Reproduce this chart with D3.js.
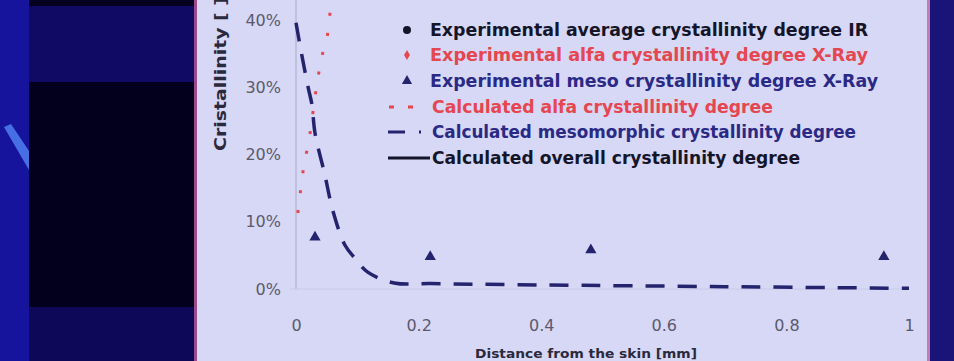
<!DOCTYPE html>
<html>
<head>
<meta charset="utf-8">
<script src="https://cdn.jsdelivr.net/npm/d3@7"></script>
<style>
  html, body { margin: 0; padding: 0; background: #0e0a5c; overflow: hidden; }
  svg { display: block; }
</style>
</head>
<body>
<svg id="chart" width="954" height="361"></svg>
<script>
// values (x in mm from the skin, y in %)
const yTicks = [0, 10, 20, 30, 40];
const xTicks = [0, 0.2, 0.4, 0.6, 0.8, 1];

const mesoExpX = [0.031, 0.219, 0.481, 0.959];
const mesoExpY = [7.7, 4.8, 5.8, 4.8];

const alfaCalcX = [0.003, 0.007, 0.011, 0.018, 0.023, 0.031, 0.036, 0.042, 0.051, 0.055, 0.068];
const alfaCalcY = [11.3, 14.3, 17.2, 20.7, 23.2, 28.5, 31.5, 34.5, 37.5, 40.7, 44];

const mesoCalcX = [0, 0.008, 0.02, 0.026, 0.031, 0.047, 0.06, 0.08, 0.096, 0.117, 0.16, 0.22, 0.4, 0.7, 1];
const mesoCalcY = [39.6, 35.5, 29.9, 27.4, 23.2, 17.0, 11.7, 6.5, 4.6, 2.5, 0.9, 0.8, 0.6, 0.35, 0.1];

const legendLabels = [
  "Experimental average crystallinity degree IR",
  "Experimental alfa crystallinity degree X-Ray",
  "Experimental meso crystallinity degree X-Ray",
  "Calculated alfa crystallinity degree",
  "Calculated mesomorphic crystallinity degree",
  "Calculated overall crystallinity degree"
];

const black = "#15152a", red = "#e5464f", navy = "#24246e", blueTxt = "#2a2a86";

const svg = d3.select("#chart");

// slide background
svg.append("rect").attr("x", 0).attr("y", 0).attr("width", 954).attr("height", 361).attr("fill", "#0e0a5c");
svg.append("rect").attr("x", 0).attr("y", 0).attr("width", 29).attr("height", 361).attr("fill", "#16149c");
svg.append("path").attr("d", "M4,127 L11,124 L29,151 L29,170 Z").attr("fill", "#4f7ff0").attr("opacity", 0.85);
svg.append("rect").attr("x", 29).attr("y", 0).attr("width", 167).attr("height", 6).attr("fill", "#050220");
svg.append("rect").attr("x", 29).attr("y", 6).attr("width", 167).attr("height", 76).attr("fill", "#100a64");
svg.append("rect").attr("x", 29).attr("y", 82).attr("width", 167).attr("height", 225).attr("fill", "#03001e");
svg.append("rect").attr("x", 29).attr("y", 307).attr("width", 167).attr("height", 54).attr("fill", "#0d0858");
svg.append("rect").attr("x", 194).attr("y", 0).attr("width", 3).attr("height", 361).attr("fill", "#9a4a8c");
svg.append("rect").attr("x", 928).attr("y", 0).attr("width", 26).attr("height", 361).attr("fill", "#1b1478");
svg.append("rect").attr("x", 927).attr("y", 0).attr("width", 3).attr("height", 361).attr("fill", "#c27ab8");

// chart panel
svg.append("rect").attr("x", 197).attr("y", 0).attr("width", 730).attr("height", 361).attr("fill", "#d7d7f6");

const x = d3.scaleLinear().domain([0, 1]).range([296, 909]);
const y = d3.scaleLinear().domain([0, 40]).range([289, 20]);

// axes
svg.append("line").attr("x1", x(0)).attr("x2", x(0)).attr("y1", 0).attr("y2", y(0))
  .attr("stroke", "#a9a9cc").attr("stroke-width", 1);
svg.append("line").attr("x1", x(0) - 6).attr("x2", x(1)).attr("y1", y(0)).attr("y2", y(0))
  .attr("stroke", "#c8c8e8").attr("stroke-width", 1);

const yAxis = svg.append("g").attr("transform", `translate(${x(0)},0)`)
  .call(d3.axisLeft(y).tickValues(yTicks).tickSize(0).tickPadding(15).tickFormat(d => d + "%"));
yAxis.select(".domain").remove();
yAxis.selectAll("text").attr("font-family", "DejaVu Sans").attr("font-size", 16).attr("fill", "#5a5a6c");

const xAxis = svg.append("g").attr("transform", `translate(0,${y(0)})`)
  .call(d3.axisBottom(x).tickValues(xTicks).tickSize(0).tickPadding(31).tickFormat(d3.format("")));
xAxis.select(".domain").remove();
xAxis.selectAll("text").attr("font-family", "DejaVu Sans").attr("font-size", 16).attr("fill", "#5a5a6c");

// axis titles
svg.append("text")
  .attr("transform", "translate(226,74) rotate(-90)")
  .attr("text-anchor", "middle")
  .attr("font-family", "DejaVu Sans").attr("font-weight", "bold").attr("font-size", 15)
  .attr("textLength", 154).attr("lengthAdjust", "spacingAndGlyphs")
  .attr("fill", "#2a2a3c")
  .text("Cristallinity [ ]");

svg.append("text")
  .attr("x", 586).attr("y", 358)
  .attr("text-anchor", "middle")
  .attr("font-family", "DejaVu Sans").attr("font-weight", "bold").attr("font-size", 13)
  .attr("textLength", 222).attr("lengthAdjust", "spacingAndGlyphs")
  .attr("fill", "#2a2a3c")
  .text("Distance from the skin [mm]");

// calculated curves
const line = d3.line().x(d => x(d[0])).y(d => y(d[1])).curve(d3.curveMonotoneX);

svg.append("path")
  .datum(mesoCalcX.map((v, i) => [v, mesoCalcY[i]]))
  .attr("fill", "none").attr("stroke", navy).attr("stroke-width", 3.5)
  .attr("stroke-dasharray", "19 13")
  .attr("d", d3.line().x(d => x(d[0])).y(d => y(d[1])).curve(d3.curveCatmullRom));

svg.append("path")
  .datum(alfaCalcX.map((v, i) => [v, alfaCalcY[i]]))
  .attr("fill", "none").attr("stroke", red).attr("stroke-width", 3)
  .attr("stroke-dasharray", "3 17")
  .attr("d", line);

// experimental meso points
svg.append("g").selectAll("path")
  .data(mesoExpX.map((v, i) => [v, mesoExpY[i]]))
  .join("path")
  .attr("transform", d => `translate(${x(d[0])},${y(d[1])})`)
  .attr("d", d3.symbol(d3.symbolTriangle, 55))
  .attr("fill", navy);

// legend
const legendY = [30, 55, 81, 107, 132, 158];
const legendLen = [438, 438, 448, 341, 424, 368];
const legendColor = [black, red, blueTxt, red, blueTxt, black];
const lg = svg.append("g");

lg.append("circle").attr("cx", 407).attr("cy", legendY[0]).attr("r", 4).attr("fill", black);
lg.append("path").attr("transform", `translate(407,${legendY[1]})`)
  .attr("d", d3.symbol(d3.symbolDiamond, 30)).attr("fill", red);
lg.append("path").attr("transform", `translate(407,${legendY[2]})`)
  .attr("d", d3.symbol(d3.symbolTriangle, 45)).attr("fill", navy);
lg.append("line").attr("x1", 389).attr("x2", 423).attr("y1", legendY[3]).attr("y2", legendY[3])
  .attr("stroke", red).attr("stroke-width", 3).attr("stroke-dasharray", "5 14");
lg.append("line").attr("x1", 388).attr("x2", 423).attr("y1", legendY[4]).attr("y2", legendY[4])
  .attr("stroke", navy).attr("stroke-width", 3).attr("stroke-dasharray", "17 14 2 10");
lg.append("line").attr("x1", 388).attr("x2", 430).attr("y1", legendY[5]).attr("y2", legendY[5])
  .attr("stroke", black).attr("stroke-width", 3);

lg.selectAll("text")
  .data(legendLabels)
  .join("text")
  .attr("x", (d, i) => i >= 3 ? 432 : 430)
  .attr("y", (d, i) => legendY[i] + 6)
  .attr("font-family", "DejaVu Sans").attr("font-weight", "bold").attr("font-size", 17)
  .attr("textLength", (d, i) => legendLen[i]).attr("lengthAdjust", "spacingAndGlyphs")
  .attr("fill", (d, i) => legendColor[i])
  .text(d => d);
</script>
</body>
</html>
